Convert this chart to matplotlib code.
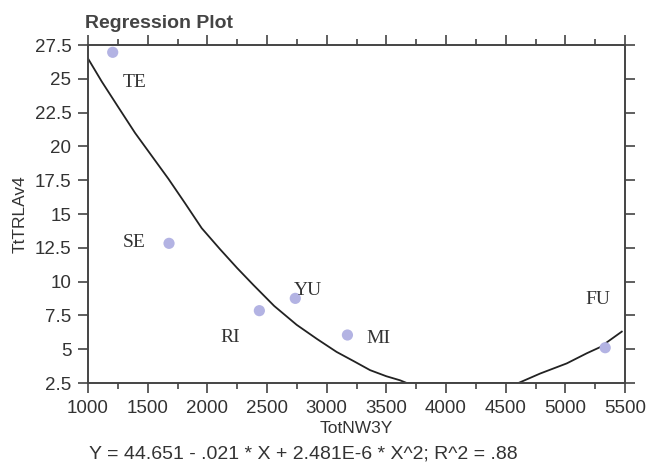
import numpy as np
import matplotlib.pyplot as plt
from matplotlib.ticker import MultipleLocator, FormatStrFormatter

# scatter points
names = ["TE", "SE", "RI", "YU", "MI", "FU"]
tot_nw = [1207, 1679, 2436, 2737, 3174, 5334]
ttrl = [26.96, 12.83, 7.85, 8.76, 6.05, 5.11]

# where each label sits
label_x = [1394, 1386, 2190, 2840, 3433, 5271]
label_y = [24.7, 12.9, 5.87, 9.34, 5.80, 8.64]

# regression curve (clipped at the bottom axis)
curve_x = [1000, 1115, 1254, 1394, 1534, 1674, 1813, 1953, 2106, 2250, 2386,
           2560, 2749, 2920, 3083, 3230, 3364, 3500, 3615, 3671,
           4607, 4789, 5012, 5180, 5291, 5473]
curve_y = [26.5, 24.8, 22.9, 21.0, 19.3, 17.6, 15.8, 13.95, 12.4, 11.0, 9.75,
           8.2, 6.8, 5.75, 4.8, 4.1, 3.45, 3.0, 2.7, 2.5,
           2.5, 3.2, 3.95, 4.7, 5.15, 6.3]

equation = "Y = 44.651 - .021 * X + 2.481E-6 * X^2; R^2 = .88"

plt.rcParams['font.family'] = ['Liberation Sans', 'DejaVu Sans']
axis_col = '#444444'
text_col = '#333333'

fig = plt.figure(figsize=(6.48, 4.70), dpi=100)
ax = fig.add_axes([88/648, 1-383/470, (625-88)/648, (383-45)/470])

ax.plot(curve_x, curve_y, color='#222222', lw=1.3, zorder=2)
ax.scatter(tot_nw, ttrl, s=65, color='#b3b3e3', edgecolors='none', zorder=3)
for n, lx, ly in zip(names, label_x, label_y):
    ax.text(lx, ly, n, ha='center', va='center', fontsize=14,
            family='Liberation Serif', color=text_col)

ax.set_xlim(1000, 5500)
ax.set_ylim(2.5, 27.5)
ax.xaxis.set_major_locator(MultipleLocator(500))
ax.xaxis.set_minor_locator(MultipleLocator(250))
ax.yaxis.set_major_locator(MultipleLocator(2.5))
ax.yaxis.set_major_formatter(FormatStrFormatter('%g'))

for s in ax.spines.values():
    s.set_color(axis_col)
    s.set_linewidth(1.4)
    s.set_zorder(4)

ax.tick_params(which='both', direction='out', color=axis_col, width=1.2,
               top=True, right=True, labelsize=13.5, labelcolor=text_col)
ax.tick_params(which='major', length=7, pad=5)
ax.tick_params(which='minor', length=4)

ax.set_xlabel("TotNW3Y", fontsize=12.5, color=text_col, labelpad=3)
ax.set_ylabel("TtTRLAv4", fontsize=12.5, color=text_col, labelpad=5)

fig.text(85/648, 1-24/470, "Regression Plot", fontsize=14, fontweight='bold',
         color='#444444', ha='left', va='center')
fig.text(303/648, 1-454/470, equation, fontsize=14, color=text_col,
         ha='center', va='center')

fig.savefig("out.png", dpi=100, facecolor='white')
